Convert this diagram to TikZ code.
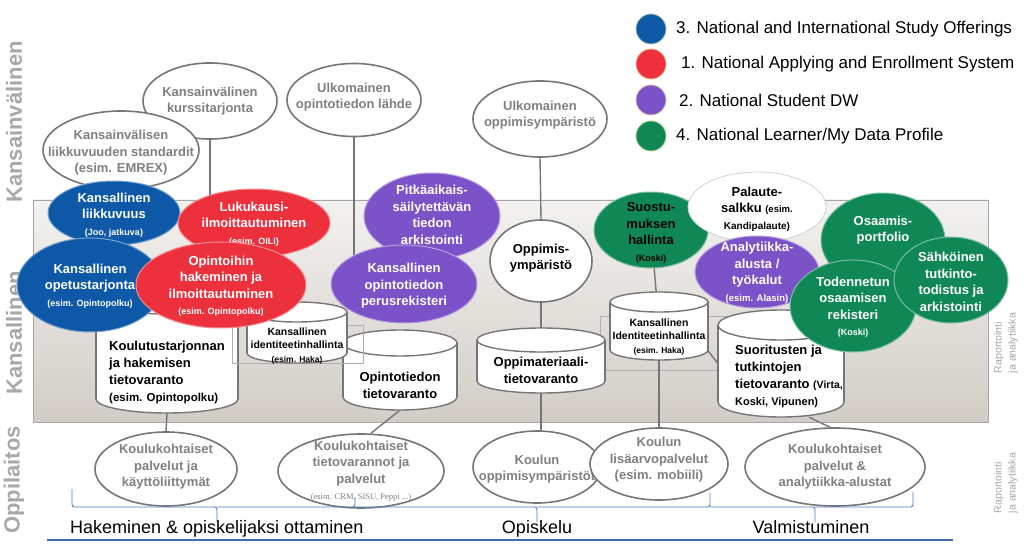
\documentclass[tikz,border=0pt]{standalone}
\usepackage{fontspec}
\setmainfont{Liberation Sans}
\newfontfamily\smserif{Liberation Serif}
\usetikzlibrary{shapes.geometric}
\definecolor{cblue}{RGB}{14,88,168}
\definecolor{cred}{RGB}{236,49,60}
\definecolor{cpurple}{RGB}{124,82,200}
\definecolor{cgreen}{RGB}{16,136,86}
\definecolor{gtext}{RGB}{128,128,128}
\definecolor{gline}{RGB}{118,118,118}
\definecolor{sidegray}{RGB}{168,168,168}
\definecolor{bracecol}{RGB}{80,125,190}
\definecolor{basecol}{RGB}{60,105,175}
\definecolor{paneltop}{RGB}{243,242,240}
\definecolor{panelbot}{RGB}{210,205,198}
\definecolor{rectcol}{RGB}{175,175,175}
\newcommand\sm{\fontsize{9}{10}\selectfont}
\newcommand\mybub[8][]{%
  \node[#2, minimum width=#6pt, minimum height=#7pt] (#3) at (#4,#5) {};
  \node[lbl,#1] at (#3.center) {#8};}
\newcommand\mycyl[6]{%
  \draw[cylline, fill=white] (#2,#4) ellipse[x radius=#5, y radius=#6];
  \fill[white] ({#2-#5},#3) rectangle ({#2+#5},#4);
  \draw[cylline] ({#2-#5},#3) -- ({#2-#5},#4) ({#2+#5},#3) -- ({#2+#5},#4);
  \draw[cylline, fill=white] (#2,#3) ellipse[x radius=#5, y radius=#6];
  \node[inner sep=0, minimum width={2*#5pt}, minimum height={(#4-#3+2*#6)*1pt}] (#1) at (#2,{(#3+#4)/2}) {};}
\pgfdeclarelayer{panel}
\pgfdeclarelayer{lines}
\pgfsetlayers{panel,lines,main}
\tikzset{
  lbl/.style={align=center, inner sep=0, text=white, font=\bfseries\fontsize{13}{16.5}\selectfont},
  gb/.style={ellipse, inner sep=0, fill=white, draw=gline, line width=1.6pt},
  cb/.style={ellipse, inner sep=0, fill=#1, draw=#1!55!white, line width=1pt},
  cylline/.style={draw=gline, line width=1.4pt},
  conn/.style={draw=gline, line width=1.4pt},
  cyltext/.style={inner sep=0, text=black, font=\bfseries\fontsize{13}{17}\selectfont},
  idtext/.style={inner sep=0, align=center, text=black, font=\bfseries\fontsize{10.5}{13.5}\selectfont},
  side/.style={rotate=90, text=sidegray, font=\bfseries\fontsize{22}{22}\selectfont},
  rap/.style={rotate=90, align=left, text=sidegray, font=\fontsize{10.5}{14}\selectfont},
  legtext/.style={anchor=west, inner sep=0, font=\fontsize{17}{20}\selectfont},
  legdot/.style={circle, inner sep=0, minimum size=30pt, fill=#1, draw=#1!60!yellow!60!white, line width=0.8pt},
  brace/.style={draw=bracecol, line width=0.9pt, rounded corners=2.5pt},
  phase/.style={inner sep=0, font=\fontsize{18}{20}\selectfont}
}
\begin{document}
\begin{tikzpicture}[x=1pt,y=-1pt]
\useasboundingbox (0,0) rectangle (1024,545);
% panel
\begin{pgfonlayer}{panel}
\fill[white] (0,0) rectangle (1024,545);
\shade[top color=paneltop, bottom color=panelbot, draw=gray!70, line width=0.6pt] (33,200) rectangle (988,422);
\end{pgfonlayer}
% side labels
\node[side] (lblK1) at (14,122) {Kansainvälinen};
\node[side] (lblK2) at (14,333) {Kansallinen};
\node[side] (lblO) at (14,480) {Oppilaitos};
\node[rap] (rap1) at (1006,343) {Raportointi\\ja analytiikka};
\node[rap] (rap2) at (1006,483) {Raportointi\\ja analytiikka};
% legend
\node[legdot=cblue] (lg1) at (651,29) {};
\node[legtext] (lt1) at (676,29) {3. National and International Study Offerings};
\node[legdot=cred] (lg2) at (651,64) {};
\node[legtext] (lt2) at (681,64) {1. National Applying and Enrollment System};
\node[legdot=cpurple] (lg3) at (651,100) {};
\node[legtext] (lt3) at (679,100) {2. National Student DW};
\node[legdot=cgreen] (lg4) at (651,136) {};
\node[legtext] (lt4) at (676,136) {4. National Learner/My Data Profile};
% top gray ellipses
\mybub[text=gtext]{gb}{kurs}{210}{101}{134}{76}{Kansainvälinen\\kurssitarjonta}
\mybub[text=gtext,yshift=-3pt]{gb}{std}{121}{150}{156}{78}{Kansainvälisen\\liikkuvuuden standardit\\(esim. EMREX)}
\mybub[text=gtext,yshift=3pt]{gb}{lahde}{354}{100}{134}{73}{Ulkomainen\\opintotiedon lähde}
\mybub[text=gtext,yshift=4pt]{gb}{uoppym}{540}{119}{134}{76}{Ulkomainen\\oppimisympäristö}
% cylinders
\mycyl{cylA}{167}{300}{399}{71}{14}
\node[cyltext, anchor=west, align=left] (tA) at (109,372) {Koulutustarjonnan\\ja hakemisen\\tietovaranto\\{\fontsize{11.5}{17}\selectfont(esim. Opintopolku)}};
\mycyl{cylC}{400}{343}{397}{57}{13}
\node[cyltext, align=center] (tC) at (400,385) {Opintotiedon\\tietovaranto};
\draw[draw=rectcol, line width=0.7pt] (232,325) rectangle (363,363);
\mycyl{cylB}{297}{312}{353}{50}{10}
\node[idtext] (tB) at (297,346) {Kansallinen\\identiteetinhallinta\\{\fontsize{8.5}{10}\selectfont(esim. Haka)}};
\mycyl{cylD}{541}{340}{381}{64}{12}
\node[cyltext, align=center] (tD) at (541,370) {Oppimateriaali-\\tietovaranto};
\mycyl{cylE}{659}{302}{350}{49}{10}
\node[idtext] (tE) at (659,337) {Kansallinen\\Identiteetinhallinta\\{\fontsize{8.5}{10}\selectfont(esim. Haka)}};
\mycyl{cylF}{781}{325}{402}{63}{15}
\node[cyltext, anchor=west, align=left] (tF) at (735,376) {Suoritusten ja\\tutkintojen\\tietovaranto {\fontsize{10.5}{17}\selectfont(Virta,}\\{\fontsize{11}{17}\selectfont Koski, Vipunen)}};
% coloured bubbles
\mybub[yshift=-2pt]{cb=cblue}{liikk}{114}{213}{132}{64}{Kansallinen\\liikkuvuus\\{\sm(Joo, jatkuva)}}
\mybub[yshift=-1pt]{cb=cblue}{opet}{90}{285}{146}{94}{Kansallinen\\opetustarjonta\\{\sm(esim. Opintopolku)}}
\mybub[yshift=-1pt]{cb=cred}{luku}{254}{223}{152}{68}{Lukukausi-\\ilmoittautuminen\\{\sm(esim. OILI)}}
\mybub[yshift=-1pt]{cb=cred}{opin}{221}{285}{170}{86}{Opintoihin\\hakeminen ja\\ilmoittautuminen\\{\sm(esim. Opintopolku)}}
\mybub[yshift=1pt]{cb=cpurple}{pitk}{432}{216}{136}{86}{Pitkäaikais-\\säilytettävän\\tiedon\\arkistointi}
\mybub[yshift=-2pt]{cb=cpurple}{perus}{404}{284}{146}{78}{Kansallinen\\opintotiedon\\perusrekisteri}
\mybub[text=black, yshift=3pt]{gb}{oppym}{541}{261}{102}{82}{Oppimis-\\ympäristö}
\mybub[text=black, yshift=-3pt]{cb=cgreen}{suost}{651}{230}{114}{76}{Suostu-\\muksen\\hallinta\\{\sm(Koski)}}
\mybub[text=black, yshift=-2pt]{ellipse, inner sep=0, fill=white, draw=gray!35, line width=0.8pt}{palaute}{757}{207}{138}{70}{Palaute-\\salkku {\fontsize{9.5}{12}\selectfont(esim.}\\{\fontsize{10}{12}\selectfont Kandipalaute)}}
\mybub[yshift=-1pt]{cb=cpurple}{anal}{757}{272}{124}{72}{Analytiikka-\\alusta /\\työkalut\\{\fontsize{9.5}{12}\selectfont(esim. Alasin)}}
\mybub[yshift=10pt]{cb=cgreen}{osaam}{883}{240}{124}{94}{Osaamis-\\portfolio}
\mybub[yshift=-1pt]{cb=cgreen}{todenn}{853}{306}{126}{92}{Todennetun\\osaamisen\\rekisteri\\{\sm(Koski)}}
\mybub[yshift=-2pt]{cb=cgreen}{sahk}{951}{280}{114}{86}{Sähköinen\\tutkinto-\\todistus ja\\arkistointi}
% bottom ellipses
\mybub[text=gtext, yshift=2pt]{gb}{kpalv}{166}{469}{142}{74}{Koulukohtaiset\\palvelut ja\\käyttöliittymät}
\mybub[text=gtext]{gb}{ktieto}{361}{471}{166}{74}{Koulukohtaiset\\tietovarannot ja\\palvelut\\{\smserif\mdseries\fontsize{8.5}{10}\selectfont(esim. CRM, SISU, Peppi ...)}}
\mybub[text=gtext, yshift=-2pt]{gb}{koppim}{537}{467}{128}{72}{Koulun\\oppimisympäristöt}
\mybub[text=gtext, yshift=4pt]{gb}{lisa}{659}{464}{138}{72}{Koulun\\lisäarvopalvelut\\(esim. mobiili)}
\mybub[text=gtext]{gb}{kanal}{835}{467}{180}{78}{Koulukohtaiset\\palvelut \&\\analytiikka-alustat}
% connectors
\begin{pgfonlayer}{lines}
\draw[draw=rectcol, line width=0.7pt] (600,316) rectangle (790,370);
\draw[conn] (kurs.south) -- (kurs.south |- cylA.north);
\draw[conn] (lahde.south) -- (lahde.south |- perus.center);
\draw[conn] (uoppym.south) -- (oppym.north);
\draw[conn] (oppym.south) -- (cylD.north);
\draw[conn] (cylD.south) -- (cylD.south |- koppim.north);
\draw[conn] (suost) -- (cylE);
\draw[conn] (cylE.south) -- (lisa.north);
\draw[conn] ([yshift=-25pt]cylE.east) -- (cylF.west);
\draw[conn] ([xshift=28pt]cylF.south) -- ([xshift=-5pt]kanal.north);
\draw[conn] (cylA.south) -- (kpalv.north);
\draw[conn] (cylC.south) -- ([xshift=10pt]ktieto.north);
\end{pgfonlayer}
% braces
\draw[brace] (72,489) |- (217,507) -- (217,522);
\draw[brace] (217,507) -| (355,497);
\draw[brace] (355,507) -| (537,522);
\draw[brace] (537,507) -| (710,493);
\draw[brace] (710,507) -| (815,522);
\draw[brace] (815,507) -| (913,492);
\draw[draw=basecol, line width=1.1pt] (47,540) -- (953,540);
\node[phase, anchor=base west] (ph1) at (70,533) {Hakeminen \& opiskelijaksi ottaminen};
\node[phase, anchor=base] (ph2) at (537,533) {Opiskelu};
\node[phase, anchor=base] (ph3) at (811,533) {Valmistuminen};
\end{tikzpicture}
\end{document}
